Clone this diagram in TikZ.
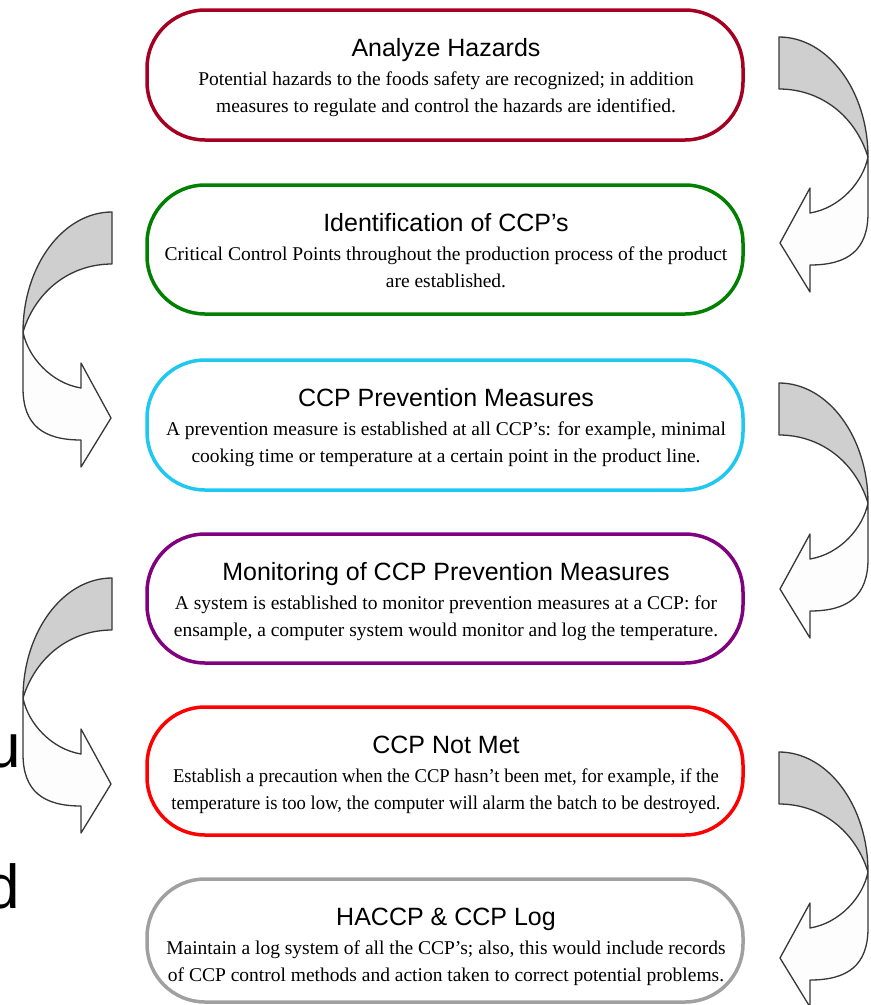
\documentclass[tikz,border=0pt]{standalone}
\usepackage{graphicx}
\usepackage{fontspec}
\setmainfont{Liberation Serif}
\newfontfamily\headfont{Liberation Sans}

\definecolor{stepcrimson}{RGB}{165,0,33}
\definecolor{stepgreen}{RGB}{0,128,0}
\definecolor{stepcyan}{RGB}{30,200,240}
\definecolor{steppurple}{RGB}{128,0,128}
\definecolor{stepred}{RGB}{255,0,0}
\definecolor{stepgray}{RGB}{160,160,160}
\definecolor{bandback}{RGB}{207,207,207}
\definecolor{bandfront}{RGB}{253,253,253}
\definecolor{bandline}{RGB}{55,55,55}

\tikzset{
  stage/.style={draw=#1, line width=3.5pt, rounded corners=58pt,
    minimum width=596pt, inner sep=0pt, fill=white},
  heading/.style={anchor=base, inner sep=0pt,
    font=\headfont\fontsize{25}{30}\selectfont},
  desc/.style={anchor=base, inner sep=0pt,
    font=\fontsize{19.5}{24}\selectfont},
  bigletter/.style={anchor=base east, inner sep=0pt,
    font=\headfont\fontsize{62}{70}\selectfont},
  bandpart/.style={draw=bandline, line width=1.3pt, line join=round},
  % U-turn block arrow: shaded back band, then the light front band with its head
  uturn/.pic={
    \path[bandpart, fill=bandback]
      (0,0) .. controls (49,0) and (89,54) .. (89,120)
      .. controls (76,78) and (41,52) .. (0,52) -- cycle;
    \path[bandpart, fill=bandfront]
      (89,120) -- (89,176)
      .. controls (89,213) and (69,228) .. (31,228)
      -- (31,255) -- (1,206) -- (31,151) -- (31,176)
      .. controls (61,171) and (84,145) .. (89,120) -- cycle;
  }
}

% one step of the plan: name, top, bottom, colour, title, two lines of text
\newcommand\haccpstage[7]{%
  \node[stage=#4, minimum height={#3-#2}] (#1) at (445,{(#2+#3)/2}) {};
  \node[heading] (#1-title) at (446,{#2+46}) {#5};
  \node[desc] (#1-one) at (446,{#2+75}) {#6};
  \node[desc] (#1-two) at (446,{#2+102}) {#7};
}
% slightly tighter setting for the longest lines
\newcommand\tightline[1]{\scalebox{0.955}[1]{#1}}

\begin{document}
\begin{tikzpicture}[x=1pt,y=-1pt]
  \useasboundingbox[fill=white] (0,0) rectangle (871,1005);

  \haccpstage{s1}{10}{140}{stepcrimson}{Analyze Hazards}
    {Potential hazards to the foods safety are recognized; in addition}
    {measures to regulate and control the hazards are identified.}
  \haccpstage{s2}{185}{314}{stepgreen}{Identification of CCP’s}
    {Critical Control Points throughout the production process of the product}
    {are established.}
  \haccpstage{s3}{360}{490}{stepcyan}{CCP Prevention Measures}
    {A prevention measure is established at all CCP’s: for example, minimal}
    {cooking time or temperature at a certain point in the product line.}
  \haccpstage{s4}{534}{663}{steppurple}{Monitoring of CCP Prevention Measures}
    {A system is established to monitor prevention measures at a CCP: for}
    {ensample, a computer system would monitor and log the temperature.}
  \haccpstage{s5}{707}{835}{stepred}{CCP Not Met}
    {\tightline{Establish a precaution when the CCP hasn’t been met, for example, if the}}
    {\tightline{temperature is too low, the computer will alarm the batch to be destroyed.}}
  \haccpstage{s6}{879}{1002}{stepgray}{HACCP \& CCP Log}
    {Maintain a log system of all the CCP’s; also, this would include records}
    {of CCP control methods and action taken to correct potential problems.}

  % arrows on the right, turning back to the left
  \pic at (779,37) {uturn};
  \pic at (779,383) {uturn};
  \pic at (779,752) {uturn};
  % arrows on the left, mirrored
  \pic[xscale=-1] at (112,212) {uturn};
  \pic[xscale=-1] at (112,578) {uturn};

  % fragments of larger text at the left border
  \node[bigletter] (frag-u) at (21,767) {u};
  \node[bigletter] (frag-d) at (20,908) {d};
\end{tikzpicture}
\end{document}
